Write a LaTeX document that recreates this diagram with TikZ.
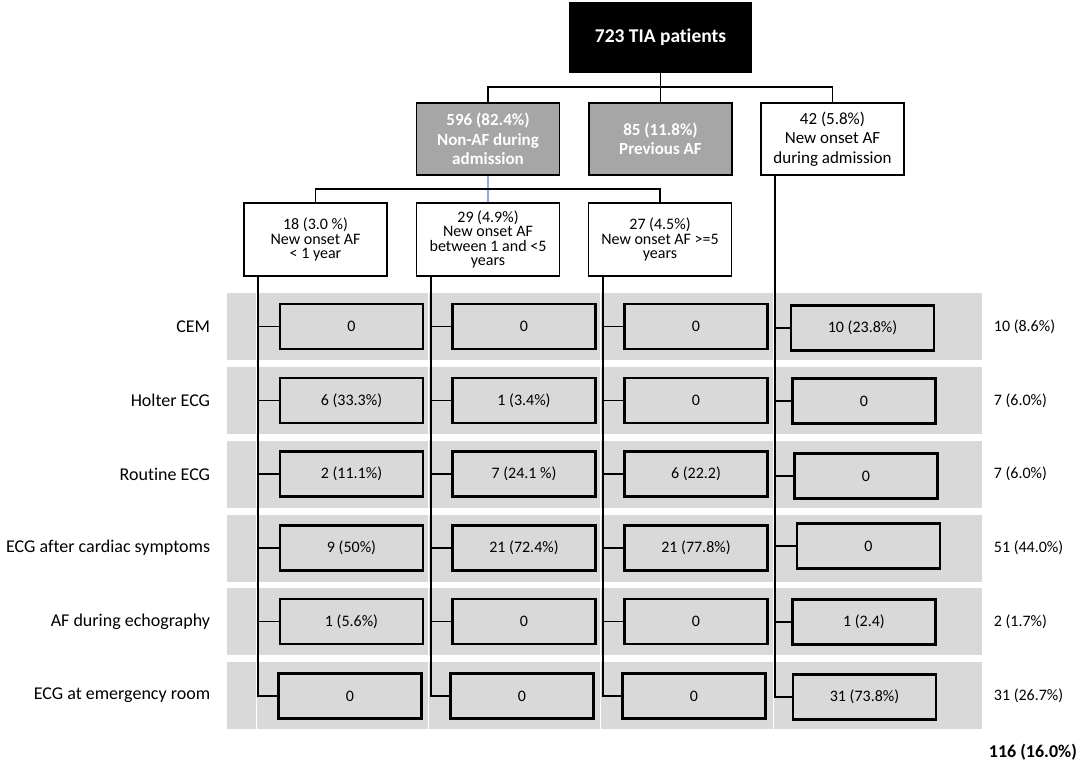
\documentclass[tikz,border=0pt]{standalone}
\usepackage{fontspec}
\setmainfont{Carlito}[Ligatures=NoCommon]
\definecolor{bandgrey}{HTML}{D9D9D9}
\definecolor{boxgrey}{HTML}{A6A6A6}
\definecolor{stemblue}{HTML}{8FAADC}

\begin{document}
\begin{tikzpicture}
          [x=1pt,y=-1pt,line width=1.8pt,
           topbox/.style={draw,fill=black,text=white,inner sep=0pt,minimum width=181pt,minimum height=69pt,font=\fontsize{19.5}{23}\selectfont\bfseries},
           grpbox/.style={draw,fill=boxgrey,text=white,align=center,inner sep=0pt,minimum width=143pt,minimum height=72pt,font=\fontsize{17}{19.5}\selectfont\bfseries},
           subbox/.style={draw,fill=white,align=center,inner sep=0pt,minimum width=143pt,minimum height=73pt,font=\fontsize{16}{14.5}\selectfont},
           cellbox/.style={draw,fill=bandgrey,line width=2.3pt,inner sep=0pt,minimum width=143pt,minimum height=45pt,font=\fontsize{16}{19}\selectfont},
           rowlab/.style={anchor=east,inner sep=0pt,font=\fontsize{18}{21}\selectfont},
           rowtot/.style={anchor=west,inner sep=0pt,font=\fontsize{16}{19}\selectfont}]

          \useasboundingbox (0,0) rectangle (1084,767);

          % grey rows of the table
          \fill[bandgrey] (227,293) rectangle (982,360);
          \fill[bandgrey] (227,367) rectangle (982,434);
          \fill[bandgrey] (227,441) rectangle (982,508);
          \fill[bandgrey] (227,515) rectangle (982,582);
          \fill[bandgrey] (227,588) rectangle (982,655);
          \fill[bandgrey] (227,662) rectangle (982,729);
          \draw[white,line width=1.6pt] (256.5,290) -- (256.5,732);
          \draw[white,line width=1.6pt] (428.5,290) -- (428.5,732);
          \draw[white,line width=1.6pt] (600.5,290) -- (600.5,732);
          \draw[white,line width=1.6pt] (773.5,290) -- (773.5,732);

          \node[topbox] (p0) at (660.5,37.5) {723 TIA patients};

          \node[grpbox] (g1) at (488,139) {596 (82.4\%)\\Non-AF during\\admission};
          \node[grpbox] (g2) at (660.5,139) {85 (11.8\%)\\Previous AF};
          \node[grpbox,fill=white,text=black,font=\fontsize{17}{19.5}\selectfont] (g3) at (832.5,139) {42 (5.8\%)\\New onset AF\\during admission};

          \node[subbox] (s1) at (315.5,239.5) {18 (3.0 \%)\\New onset AF\\< 1 year};
          \node[subbox] (s2) at (488,239.5) {29 (4.9\%)\\New onset AF\\between 1 and <5\\years};
          \node[subbox] (s3) at (660,239.5) {27 (4.5\%)\\New onset AF >=5\\years};

          \node[rowlab] (r1) at (211,326.5) {CEM};
          \node[rowlab] (r2) at (211,400.5) {Holter ECG};
          \node[rowlab] (r3) at (211,474) {Routine ECG};
          \node[rowlab] (r4) at (211,548) {ECG after cardiac symptoms};
          \node[rowlab] (r5) at (211,621.5) {AF during echography};
          \node[rowlab] (r6) at (211,695.5) {ECG at emergency room};

          \node[cellbox] (c11) at (351.5,326.5) {0};
          \node[cellbox] (c12) at (524,326.5) {0};
          \node[cellbox] (c13) at (696,326.5) {0};
          \node[cellbox] (c14) at (862.5,328) {10 (23.8\%)};
          \node[cellbox] (c21) at (351.5,400.5) {6 (33.3\%)};
          \node[cellbox] (c22) at (524,400.5) {1 (3.4\%)};
          \node[cellbox] (c23) at (696,400.5) {0};
          \node[cellbox] (c24) at (864,401) {0};
          \node[cellbox] (c31) at (351.5,474) {2 (11.1\%)};
          \node[cellbox] (c32) at (524,474) {7 (24.1 \%)};
          \node[cellbox] (c33) at (696,474) {6 (22.2)};
          \node[cellbox] (c34) at (866,476) {0};
          \node[cellbox] (c41) at (351.5,548) {9 (50\%)};
          \node[cellbox] (c42) at (524,548) {21 (72.4\%)};
          \node[cellbox] (c43) at (696,548) {21 (77.8\%)};
          \node[cellbox] (c44) at (868.5,546) {0};
          \node[cellbox] (c51) at (351.5,621.5) {1 (5.6\%)};
          \node[cellbox] (c52) at (524,621.5) {0};
          \node[cellbox] (c53) at (696,621.5) {0};
          \node[cellbox] (c54) at (864,622) {1 (2.4)};
          \node[cellbox] (c61) at (350,696) {0};
          \node[cellbox] (c62) at (522,696) {0};
          \node[cellbox] (c63) at (694,696) {0};
          \node[cellbox] (c64) at (864.5,697) {31 (73.8\%)};

          \node[rowtot] (t1) at (993,326.5) {10 (8.6\%)};
          \node[rowtot] (t2) at (993,400.5) {7 (6.0\%)};
          \node[rowtot] (t3) at (993,474) {7 (6.0\%)};
          \node[rowtot] (t4) at (993,548) {51 (44.0\%)};
          \node[rowtot] (t5) at (993,621.5) {2 (1.7\%)};
          \node[rowtot] (t6) at (993,695.5) {31 (26.7\%)};
          \node[rowtot,font=\fontsize{18}{21}\selectfont\bfseries] (tsum) at (988,752) {116 (16.0\%)};

          \coordinate (k1) at ([xshift=15pt]s1.south west);
          \coordinate (k2) at ([xshift=15pt]s2.south west);
          \coordinate (k3) at ([xshift=15pt]s3.south west);
          \coordinate (k4) at ([xshift=15pt]g3.south west);

          \draw (p0) -- (g2);
          \draw (g1.north) -- ++(0,-15) -| (g3.north);
          \draw[stemblue] (g1) -- (s2);
          \draw (s1.north) -- ++(0,-13) -| (s3.north);

          \draw (k1 |- c11) -- (c11);
          \draw (k1 |- c21) -- (c21);
          \draw (k1 |- c31) -- (c31);
          \draw (k1 |- c41) -- (c41);
          \draw (k1 |- c51) -- (c51);
          \draw (k1) |- (c61);
          \draw (k2 |- c12) -- (c12);
          \draw (k2 |- c22) -- (c22);
          \draw (k2 |- c32) -- (c32);
          \draw (k2 |- c42) -- (c42);
          \draw (k2 |- c52) -- (c52);
          \draw (k2) |- (c62);
          \draw (k3 |- c13) -- (c13);
          \draw (k3 |- c23) -- (c23);
          \draw (k3 |- c33) -- (c33);
          \draw (k3 |- c43) -- (c43);
          \draw (k3 |- c53) -- (c53);
          \draw (k3) |- (c63);
          \draw (k4 |- c14) -- (c14);
          \draw (k4 |- c24) -- (c24);
          \draw (k4 |- c34) -- (c34);
          \draw (k4 |- c44) -- (c44);
          \draw (k4 |- c54) -- (c54);
          \draw (k4) |- (c64);
        \end{tikzpicture}
\end{document}
